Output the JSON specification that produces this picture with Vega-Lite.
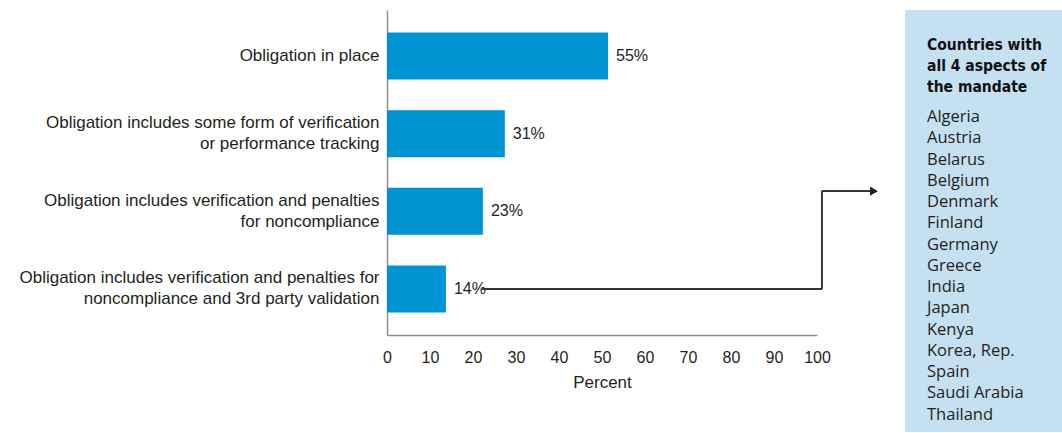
{
  "$schema": "https://vega.github.io/schema/vega-lite/v6.json",
  "padding": {"left": 18, "top": 10, "right": 0, "bottom": 0},
  "bounds": "flush",
  "spacing": 88,
  "background": "white",
  "config": {"view": {"stroke": null, "strokeWidth": 0}},
  "hconcat": [
    {
      "width": 430,
      "height": 325,
      "data": {"values": [
        {"cat": "Obligation in place", "value": 51.4, "label": "55%"},
        {"cat": "Obligation includes some form of verification\nor performance tracking", "value": 27.4, "label": "31%"},
        {"cat": "Obligation includes verification and penalties\nfor noncompliance", "value": 22.3, "label": "23%"},
        {"cat": "Obligation includes verification and penalties for\nnoncompliance and 3rd party validation", "value": 13.7, "label": "14%"}
      ]},
      "encoding": {
        "y": {
          "field": "cat", "type": "nominal", "sort": null,
          "scale": {"paddingInner": 0.395, "paddingOuter": 0.29},
          "axis": {
            "title": null, "ticks": false, "tickSize": 0, "grid": false,
            "domainColor": "#8f8f8f", "domainWidth": 1.5,
            "labelExpr": "split(datum.label, '\\n')",
            "labelOffset": {"condition": {"test": "indexof(datum.value, '\\n') >= 0", "value": -10.5}, "value": 0},
            "labelFont": "Liberation Sans", "labelFontSize": 17, "labelLineHeight": 21,
            "labelColor": "#231f20", "labelLimit": 600, "labelPadding": 8
          }
        }
      },
      "layer": [
        {
          "mark": {"type": "bar", "color": "#0094d2"},
          "encoding": {
            "x": {
              "field": "value", "type": "quantitative",
              "scale": {"domain": [0, 100], "nice": false},
              "axis": {
                "title": "Percent", "values": [0,10,20,30,40,50,60,70,80,90,100],
                "ticks": false, "tickSize": 0, "grid": false,
                "domainColor": "#8f8f8f", "domainWidth": 1.5,
                "labelFont": "Liberation Sans", "labelFontSize": 16, "labelColor": "#231f20",
                "labelPadding": 14, "labelFlush": false,
                "titleFont": "Liberation Sans", "titleFontSize": 17, "titleFontWeight": "normal",
                "titleColor": "#231f20", "titlePadding": 9
              }
            }
          }
        },
        {
          "mark": {"type": "text", "align": "left", "baseline": "middle", "dx": 8, "font": "Liberation Sans", "fontSize": 16, "color": "#231f20"},
          "encoding": {
            "x": {"field": "value", "type": "quantitative"},
            "text": {"field": "label"}
          }
        },
        {
          "mark": {"type": "rule", "color": "#333333", "strokeWidth": 1.5},
          "encoding": {
            "x": {"datum": 22.2, "type": "quantitative"},
            "x2": {"datum": 101.1},
            "y": {"datum": "Obligation includes verification and penalties for\nnoncompliance and 3rd party validation", "type": "nominal", "bandPosition": 0.5}
          }
        },
        {
          "mark": {"type": "rule", "color": "#333333", "strokeWidth": 1.5},
          "encoding": {
            "x": {"datum": 101.1, "type": "quantitative"},
            "y": {"datum": "Obligation includes verification and penalties for\nnoncompliance and 3rd party validation", "type": "nominal", "bandPosition": 0.5},
            "y2": {"datum": "Obligation includes verification and penalties\nfor noncompliance", "bandPosition": 0.07}
          }
        },
        {
          "mark": {"type": "rule", "color": "#333333", "strokeWidth": 1.5},
          "encoding": {
            "x": {"datum": 101.1, "type": "quantitative"},
            "x2": {"datum": 112.3},
            "y": {"datum": "Obligation includes verification and penalties\nfor noncompliance", "type": "nominal", "bandPosition": 0.07}
          }
        },
        {
          "mark": {"type": "point", "shape": "triangle-right", "filled": true, "size": 70, "color": "#222222", "opacity": 1},
          "encoding": {
            "x": {"datum": 113.2, "type": "quantitative"},
            "y": {"datum": "Obligation includes verification and penalties\nfor noncompliance", "type": "nominal", "bandPosition": 0.07}
          }
        }
      ]
    },
    {
      "spacing": 0,
      "bounds": "flush",
      "vconcat": [
        {
          "width": 157,
          "height": 84,
          "view": {"fill": "#c5e0f1", "stroke": null, "strokeWidth": 0},
          "data": {"values": [
            {"line": "Countries with"},
            {"line": "all 4 aspects of"},
            {"line": "the mandate"}
          ]},
          "mark": {"type": "text", "align": "left", "baseline": "middle", "dx": -56.5, "font": "DejaVu Sans Condensed, Liberation Sans, sans-serif", "fontWeight": "bold", "fontSize": 15.5, "color": "#111111"},
          "encoding": {
            "y": {"field": "line", "type": "nominal", "sort": null, "scale": {"type": "point", "padding": 1, "align": 0.83}, "axis": null},
            "text": {"field": "line"}
          }
        },
        {
          "width": 157,
          "height": 338,
          "view": {"fill": "#c5e0f1", "stroke": null, "strokeWidth": 0},
          "data": {"values": [
            {"country": "Algeria"}, {"country": "Austria"}, {"country": "Belarus"}, {"country": "Belgium"},
            {"country": "Denmark"}, {"country": "Finland"}, {"country": "Germany"}, {"country": "Greece"},
            {"country": "India"}, {"country": "Japan"}, {"country": "Kenya"}, {"country": "Korea, Rep."},
            {"country": "Spain"}, {"country": "Saudi Arabia"}, {"country": "Thailand"}
          ]},
          "mark": {"type": "text", "align": "left", "baseline": "middle", "dx": -56.5, "font": "Open Sans", "fontSize": 16.5, "color": "#231f20"},
          "encoding": {
            "y": {"field": "country", "type": "nominal", "sort": null, "scale": {"type": "point", "padding": 0.95, "align": 0.57}, "axis": null},
            "text": {"field": "country"}
          }
        }
      ]
    }
  ]
}
